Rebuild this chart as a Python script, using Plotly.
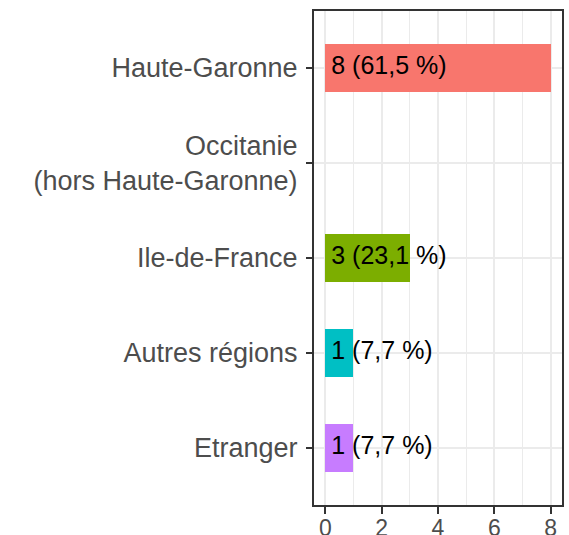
import plotly.graph_objects as go

categories = ["Etranger", "Autres régions", "Ile-de-France",
              "Occitanie<br>(hors Haute-Garonne)", "Haute-Garonne"]
bar_categories = ["Etranger", "Autres régions", "Ile-de-France", "Haute-Garonne"]
counts = [1, 1, 3, 8]
labels = ["1 (7,7 %)", "1 (7,7 %)", "3 (23,1 %)", "8 (61,5 %)"]
colors = ["#C77CFF", "#00BFC4", "#7CAE00", "#F8766D"]
x_ticks = [0, 2, 4, 6, 8]

FONT = "Liberation Sans, Arial, sans-serif"

fig = go.Figure()
fig.add_trace(go.Bar(
    y=bar_categories, x=counts, orientation="h", width=0.5,
    marker=dict(color=colors, line=dict(width=0)),
    hoverinfo="skip", showlegend=False,
))
fig.add_trace(go.Scatter(
    y=bar_categories, x=[0] * len(bar_categories), mode="markers+text",
    marker=dict(size=8, opacity=0),
    text=labels, textposition="middle right",
    textfont=dict(family=FONT, size=25, color="#000000"),
    hoverinfo="skip", showlegend=False, cliponaxis=False,
))

fig.update_layout(
    width=569, height=535,
    margin=dict(l=314, r=7, t=11, b=30),
    paper_bgcolor="white", plot_bgcolor="white",
    font=dict(family=FONT),
    bargap=0,
)
fig.update_xaxes(
    range=[-0.4, 8.4], tickvals=x_ticks, ticktext=[str(v) for v in x_ticks],
    showgrid=True, gridcolor="#EBEBEB", gridwidth=2,
    minor=dict(dtick=1, tick0=0, showgrid=True, gridcolor="#EBEBEB", gridwidth=1, ticks=""),
    zeroline=False,
    showline=True, linecolor="#333333", linewidth=2, mirror=True,
    ticks="outside", ticklen=7, tickwidth=2, tickcolor="#333333",
    tickfont=dict(family=FONT, size=23, color="#4D4D4D"),
    ticklabelstandoff=-6,
    automargin=False,
)
fig.update_yaxes(
    categoryorder="array", categoryarray=categories, type="category",
    range=[-0.6, 4.6],
    showgrid=True, gridcolor="#EBEBEB", gridwidth=2,
    zeroline=False,
    showline=True, linecolor="#333333", linewidth=2, mirror=True,
    ticks="outside", ticklen=6, tickwidth=2, tickcolor="#333333",
    tickfont=dict(family=FONT, size=27, color="#4D4D4D"),
    ticklabelstandoff=3,
    automargin=False,
)

fig.write_html("out.html", config={"displayModeBar": False},
               post_script="document.body.style.margin='0';document.body.style.padding='0';")
